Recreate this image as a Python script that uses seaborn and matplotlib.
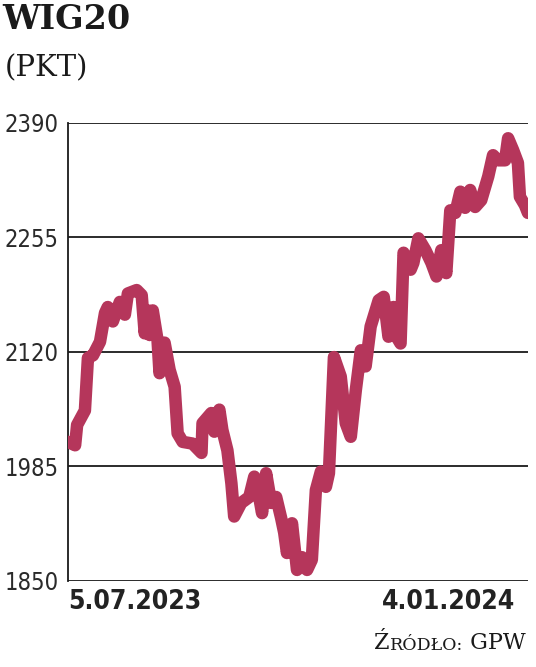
import numpy as np
import pandas as pd
import seaborn as sns
import matplotlib
import matplotlib.pyplot as plt

matplotlib.use("Agg")

# days since 5.07.2023, WIG20 closing values
days = [0, 2.8, 3.6, 6.7, 7.9, 9.9, 12.7, 14.7, 15.8, 17.8, 20.6, 22.6, 23.8,
        27.3, 29.3, 30.5, 31.7, 32.5, 33.7, 35.6, 36.4, 38.4, 40.4, 42.4,
        43.6, 45.6, 49.5, 53.1, 53.5, 57.0, 58.2, 60.2, 61.4, 63.4, 65.0,
        66.1, 68.9, 72.1, 74.1, 75.3, 77.2, 78.8, 80.8, 82.8, 84.8, 86.0,
        87.1, 89.1, 91.1, 93.1, 95.1, 97.0, 98.6, 100.6, 102.6, 103.8, 105.8,
        108.5, 110.5, 112.5, 114.5, 116.5, 118.4, 120.4, 123.6, 125.6, 127.5,
        129.5, 130.7, 132.3, 133.5, 136.3, 137.4, 139.4, 142.2, 144.6, 146.6,
        148.5, 150.5, 152.1, 154.1, 156.1, 158.0, 160.0, 162.0, 164.4, 167.2,
        169.1, 171.1, 173.9, 175.1, 177.1, 179.0, 179.8, 181.8, 183.0]
values = [2014, 2010, 2034, 2051, 2113, 2116, 2132, 2166, 2173, 2156, 2179,
          2164, 2189, 2193, 2187, 2142, 2169, 2140, 2169, 2134, 2095, 2131,
          2099, 2079, 2024, 2014, 2012, 2001, 2036, 2048, 2026, 2052, 2028,
          2004, 1965, 1926, 1942, 1949, 1973, 1961, 1930, 1977, 1942, 1949,
          1924, 1907, 1883, 1918, 1863, 1878, 1863, 1875, 1957, 1979, 1961,
          1977, 2114, 2091, 2036, 2020, 2075, 2122, 2103, 2150, 2181, 2185,
          2138, 2173, 2138, 2130, 2237, 2217, 2225, 2254, 2240, 2225, 2209,
          2240, 2213, 2287, 2284, 2309, 2290, 2311, 2291, 2299, 2327, 2352,
          2346, 2346, 2372, 2358, 2343, 2303, 2293, 2284]

y_ticks = [1850, 1985, 2120, 2255, 2390]
x_labels = ["5.07.2023", "4.01.2024"]
title = "WIG20"
unit = "(PKT)"
# small caps: first letter big, rest smaller, then "GPW" big again
source_parts = ["Ź", "RÓDŁO:", " GPW"]
source_sizes = [16, 12.5, 16]

LINE = "#b5365b"
INK = "#1a1a1a"


def main():
    sns.set_style("white")
    plt.rcParams["font.family"] = ["DejaVu Sans"]
    df = pd.DataFrame({"day": days, "value": values})

    fig = plt.figure(figsize=(5.36, 6.67), dpi=100)
    ax = fig.add_axes([0.127, 0.129, 0.858, 0.6866])

    for t in y_ticks:
        ax.axhline(t, color=INK, lw=1.3, zorder=1)

    sns.lineplot(data=df, x="day", y="value", ax=ax, color=LINE, lw=9,
                 solid_capstyle="round", solid_joinstyle="round", zorder=3)

    ax.set_ylim(1850, 2390)
    ax.set_xlim(0, 183)
    ax.set_yticks(y_ticks)
    ax.set_yticklabels([str(t) for t in y_ticks], fontsize=17, color="#2a2a2a",
                       fontstretch="condensed")
    ax.tick_params(axis="y", length=0, pad=7)
    ax.set_xticks([])
    ax.set_xlabel("")
    ax.set_ylabel("")

    # first and last date under the axis ends
    ax.annotate(x_labels[0], xy=(0, 0), xycoords="axes fraction",
                xytext=(0, -6), textcoords="offset points", ha="left", va="top",
                fontsize=19, fontweight="bold", fontstretch="condensed",
                color="#222222")
    ax.annotate(x_labels[1], xy=(1, 0), xycoords="axes fraction",
                xytext=(-9, -6), textcoords="offset points", ha="right", va="top",
                fontsize=19, fontweight="bold", fontstretch="condensed",
                color="#222222")

    for s in ["top", "right", "bottom"]:
        ax.spines[s].set_visible(False)
    ax.spines["left"].set_color(INK)
    ax.spines["left"].set_linewidth(1.3)

    fig.text(0.004, 0.995, title, fontsize=24, fontweight="bold",
             family="DejaVu Serif", va="top", ha="left", color=INK)
    fig.text(0.008, 0.918, unit, fontsize=21, family="DejaVu Serif",
             va="top", ha="left", color=INK)

    # source line, pieces placed one after another
    renderer = fig.canvas.get_renderer()
    x0 = 0.698
    for part, size in zip(source_parts, source_sizes):
        txt = fig.text(x0, 0.02, part, fontsize=size, family="DejaVu Serif",
                       va="bottom", ha="left", color=INK)
        x0 = txt.get_window_extent(renderer).x1 / fig.bbox.width

    fig.savefig("out.png", dpi=100)


if __name__ == "__main__":
    main()
